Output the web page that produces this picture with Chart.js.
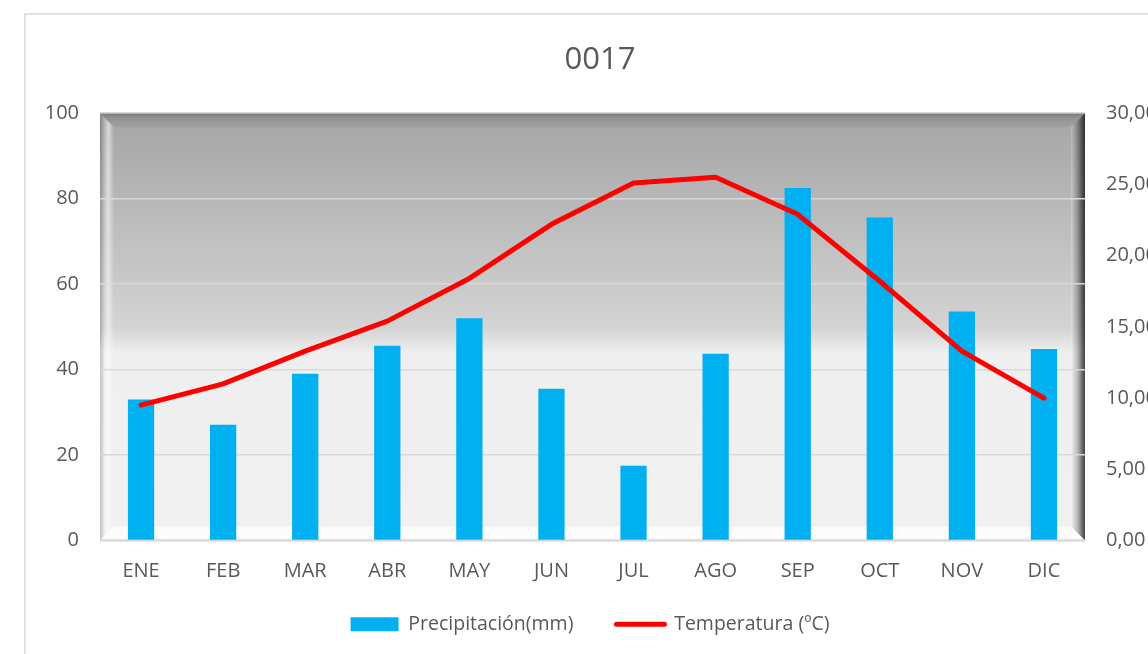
<!DOCTYPE html>
<html>
<head>
<meta charset="utf-8">
<script src="https://cdn.jsdelivr.net/npm/chart.js@4/dist/chart.umd.min.js"></script>
<style>
  html, body { margin: 0; padding: 0; background: #fff; }
  #wrap { width: 1148px; height: 654px; position: relative; }
</style>
</head>
<body>
<div id="wrap"><canvas id="chart"></canvas></div>
<script>
// Climograma 0017 — precipitación (barras) y temperatura (línea)
const MESES = ["ENE", "FEB", "MAR", "ABR", "MAY", "JUN", "JUL", "AGO", "SEP", "OCT", "NOV", "DIC"];
const PRECIP = [33, 27.1, 39, 45.6, 52, 35.5, 17.5, 43.7, 82.5, 75.6, 53.6, 44.8];
const TEMP = [9.5, 11.0, 13.3, 15.4, 18.4, 22.2, 25.1, 25.5, 22.9, 18.2, 13.3, 10.0];
const TITULO = "0017";

const BLUE = "#00b0f0", RED = "#ff0000", TXT = "#595959";

Chart.defaults.font.family = "'Open Sans', sans-serif";
Chart.defaults.color = TXT;

// fondo degradado + marco biselado del área de trazado
const plotFrame = {
  id: "plotFrame",
  beforeDraw(chart) {
    const g = chart.ctx, { left: L, top: T, right: R, bottom: B } = chart.chartArea;
    const bw = 14;
    g.save();
    // borde exterior del gráfico
    g.strokeStyle = "#d9d9d9"; g.lineWidth = 1.5;
    g.strokeRect(25, 14, 1300, 800);

    const bg = g.createLinearGradient(0, T, 0, B);
    bg.addColorStop(0, "#a4a4a4");
    bg.addColorStop(0.06, "#aaaaaa");
    bg.addColorStop(0.5, "#d3d3d3");
    bg.addColorStop(0.53, "#e0e0e0");
    bg.addColorStop(0.56, "#efefef");
    bg.addColorStop(1, "#f0f0f0");
    g.fillStyle = bg;
    g.fillRect(L, T, R - L, B - T);

    const poly = (pts, fill) => {
      g.beginPath(); g.moveTo(pts[0][0], pts[0][1]);
      pts.slice(1).forEach(p => g.lineTo(p[0], p[1]));
      g.closePath(); g.fillStyle = fill; g.fill();
    };
    // arriba
    let gr = g.createLinearGradient(0, T, 0, T + bw);
    gr.addColorStop(0, "rgba(0,0,0,0.28)"); gr.addColorStop(0.3, "rgba(0,0,0,0.12)"); gr.addColorStop(1, "rgba(0,0,0,0.03)");
    poly([[L, T], [R, T], [R - bw, T + bw], [L + bw, T + bw]], gr);
    // izquierda
    gr = g.createLinearGradient(L, 0, L + bw, 0);
    gr.addColorStop(0, "rgba(0,0,0,0.2)"); gr.addColorStop(0.35, "rgba(255,255,255,0.2)");
    gr.addColorStop(0.6, "rgba(255,255,255,0.55)"); gr.addColorStop(1, "rgba(255,255,255,0)");
    poly([[L, T], [L + bw, T + bw], [L + bw, B - bw], [L, B]], gr);
    // derecha
    gr = g.createLinearGradient(R - bw, 0, R, 0);
    gr.addColorStop(0, "rgba(255,255,255,0.25)"); gr.addColorStop(0.5, "rgba(0,0,0,0.25)");
    gr.addColorStop(0.85, "rgba(0,0,0,0.6)"); gr.addColorStop(1, "rgba(0,0,0,0.72)");
    poly([[R, T], [R, B], [R - bw, B - bw], [R - bw, T + bw]], gr);
    // abajo
    gr = g.createLinearGradient(0, B - bw, 0, B);
    gr.addColorStop(0, "#fbfbfb"); gr.addColorStop(0.8, "#fdfdfd"); gr.addColorStop(1, "#e6e6e6");
    poly([[L + bw, B - bw], [R - bw, B - bw], [R, B], [L, B]], gr);
    g.strokeStyle = "#c8c8c8"; g.lineWidth = 1.5;
    g.beginPath(); g.moveTo(L, B); g.lineTo(R, B); g.stroke();
    g.restore();
  },
  afterLayout(chart) {
    // Excel centra título y leyenda respecto al marco, no al lienzo
    if (chart.titleBlock) { chart.titleBlock.left += 26; chart.titleBlock.right += 26; }
    if (chart.legend) {
      chart.legend.left += 16; chart.legend.right += 16;
      chart.legend.top -= 10; chart.legend.bottom -= 10;
    }
  }
};

const fmtRight = (v) => v.toFixed(2).replace(".", ",");

new Chart(document.getElementById("chart"), {
  type: "bar",
  data: {
    labels: MESES,
    datasets: [
      { type: "bar", label: "Precipitación(mm)", data: PRECIP, backgroundColor: BLUE,
        borderWidth: 0, yAxisID: "y", order: 1,
        categoryPercentage: 1, barPercentage: 0.32 },
      { type: "line", label: "Temperatura (ºC)", data: TEMP, borderColor: RED,
        backgroundColor: RED, borderWidth: 5, pointRadius: 0, tension: 0,
        borderCapStyle: "round", borderJoinStyle: "round", yAxisID: "y1", order: 0 },
    ],
  },
  options: {
    responsive: true, maintainAspectRatio: false, animation: false,
    layout: { padding: { top: 42, bottom: 0, left: 0, right: 0 } },
    plugins: {
      tooltip: { enabled: false },
      title: { display: true, text: TITULO, color: TXT,
        font: { size: 31, weight: "normal" }, padding: { top: 0, bottom: 34 } },
      legend: {
        position: "bottom",
        labels: {
          color: TXT, font: { size: 19.5 }, padding: 43,
          usePointStyle: true, pointStyleWidth: 48, boxHeight: 14,
          sort: (a, b) => a.datasetIndex - b.datasetIndex,
          generateLabels(chart) {
            const items = Chart.defaults.plugins.legend.labels.generateLabels(chart);
            items.forEach((it) => {
              if (it.datasetIndex === 0) {
                it.pointStyle = "rect"; it.fillStyle = BLUE; it.lineWidth = 0;
              } else {
                it.pointStyle = "line"; it.strokeStyle = RED; it.lineWidth = 5; it.lineCap = "round";
              }
              it.fontColor = TXT;
            });
            return items;
          },
        },
      },
    },
    scales: {
      x: {
        grid: { display: false }, border: { display: false },
        ticks: { font: { size: 20 }, color: TXT, padding: 11 },
        afterFit: (s) => { s.height = 41; },
      },
      y: {
        position: "left", min: 0, max: 100,
        ticks: { stepSize: 20, font: { size: 20 }, color: TXT, padding: 21 },
        grid: { color: "#d9d9d9", lineWidth: 1.5, drawTicks: false },
        border: { display: false },
        afterFit: (s) => { s.width = 100; },
      },
      y1: {
        position: "right", min: 0, max: 30,
        ticks: { stepSize: 5, font: { size: 20 }, color: TXT, padding: 21, callback: fmtRight },
        grid: { display: false, drawTicks: false },
        border: { display: false },
        afterFit: (s) => { s.width = 63; },
      },
    },
  },
  plugins: [plotFrame],
});
</script>
</body>
</html>
